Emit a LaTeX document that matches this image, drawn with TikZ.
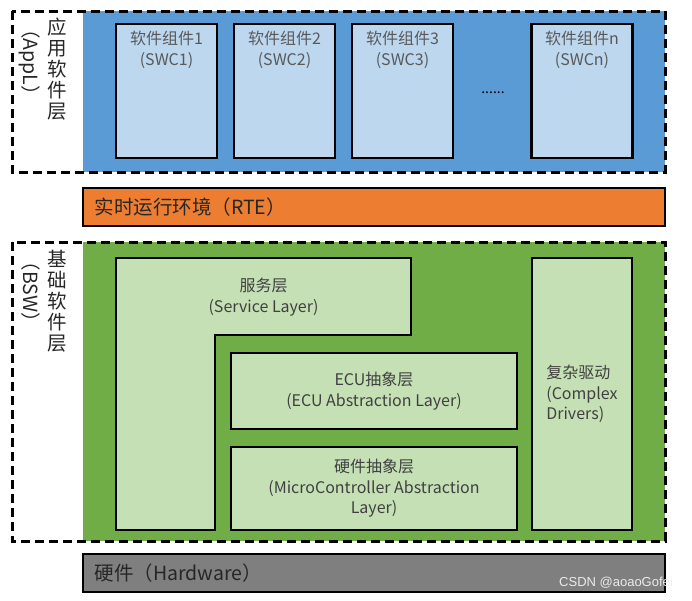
\documentclass[tikz,border=0pt]{standalone}
\usepackage{fontspec}
\setmainfont{Noto Sans CJK SC}
\newfontfamily\markfont{Liberation Sans}
\usetikzlibrary{positioning}

\definecolor{applblue}{HTML}{5B9BD5}
\definecolor{swcblue}{HTML}{BDD7EE}
\definecolor{rteorange}{HTML}{ED7D31}
\definecolor{bswgreen}{HTML}{70AD47}
\definecolor{bswlight}{HTML}{C5E0B4}
\definecolor{hwgray}{HTML}{7F7F7F}
\definecolor{swctxt}{HTML}{595959}
\definecolor{bswtxt}{HTML}{404040}

\tikzset{
  layerbox/.style={draw=black, line width=2.3pt, rectangle, inner sep=0pt, outer sep=0pt},
  swcbox/.style={layerbox, fill=swcblue, minimum width=101pt, minimum height=134pt},
  swctext/.style={text=swctxt, align=center, font=\fontsize{16}{21}\selectfont},
  bswtext/.style={text=bswtxt, align=center, font=\fontsize{16}{20.5}\selectfont},
  bartext/.style={text=black!85, font=\fontsize{19.5}{22}\selectfont},
  sidetext/.style={text=black!85, align=center, font=\fontsize{19.5}{21}\selectfont},
  frame/.style={draw=black, dash pattern=on 9pt off 5pt, line width=3pt}
}

\begin{document}
\begin{tikzpicture}[x=1pt, y=-1pt]
    \useasboundingbox (0,0) rectangle (692,600);

    % 应用软件层
    \fill[applblue] (83,11) rectangle (665,172);
    \draw[frame] (12,11) rectangle (665,172);
    \node[sidetext] (applcn) at (57,69.5) {应\\用\\软\\件\\层};
    \node[sidetext, rotate=-90] (appl) at (30,62) {（AppL）};

    \node[swcbox] (swc1) at (166.5,91) {};
    \node[swcbox] (swc2) at (284.5,91) {};
    \node[swcbox] (swc3) at (402.5,91) {};
    \node[swcbox] (swcn) at (582,91) {};

    \node[swctext, below=4pt of swc1.north] (swc1txt) {软件组件1\\(SWC1)};
    \node[swctext, below=4pt of swc2.north] (swc2txt) {软件组件2\\(SWC2)};
    \node[swctext, below=4pt of swc3.north] (swc3txt) {软件组件3\\(SWC3)};
    \node[swctext, below=4pt of swcn.north] (swcntxt) {软件组件n\\(SWCn)};
    \node[text=black, font=\fontsize{14}{16}\selectfont] (dots) at (493,93) {......};

    % 实时运行环境
    \node[layerbox, fill=rteorange, minimum width=582pt, minimum height=38pt] (rte) at (374,207) {};
    \node[bartext, right=8pt of rte.west] (rtetxt) {实时运行环境（RTE）};

    % 基础软件层
    \fill[bswgreen] (83,242) rectangle (665,541);
    \draw[frame] (12,242) rectangle (665,541);
    \node[sidetext] (bswcn) at (57,301) {基\\础\\软\\件\\层};
    \node[sidetext, rotate=-90] (bsw) at (31,292) {（BSW）};

    \draw[line width=2.3pt, fill=bswlight] (116,258) -- (411,258) -- (411,335) -- (215,335)
        -- (215,530) -- (116,530) -- cycle;
    \node[bswtext] (service) at (263.5,297) {服务层\\(Service Layer)};

    \node[layerbox, fill=bswlight, bswtext, minimum width=286pt, minimum height=76pt] (ecu) at (374,391)
        {ECU抽象层\\(ECU Abstraction Layer)};
    \node[layerbox, fill=bswlight, bswtext, minimum width=286pt, minimum height=83pt] (mcal) at (374,488.5)
        {硬件抽象层\\(MicroController Abstraction\\Layer)};
    \node[layerbox, fill=bswlight, bswtext, align=left, minimum width=100pt, minimum height=272pt] (cdd) at (582,394)
        {复杂驱动\\(Complex\\Drivers)};

    % 硬件
    \node[layerbox, fill=hwgray, minimum width=582pt, minimum height=38pt] (hw) at (374,573) {};
    \node[bartext, right=8pt of hw.west] (hwtxt) {硬件（Hardware）};

    \node[text=white!92!black, font=\markfont\fontsize{13}{15}\selectfont] (mark) at (616,583) {CSDN @aoaoGofei};
\end{tikzpicture}
\end{document}
